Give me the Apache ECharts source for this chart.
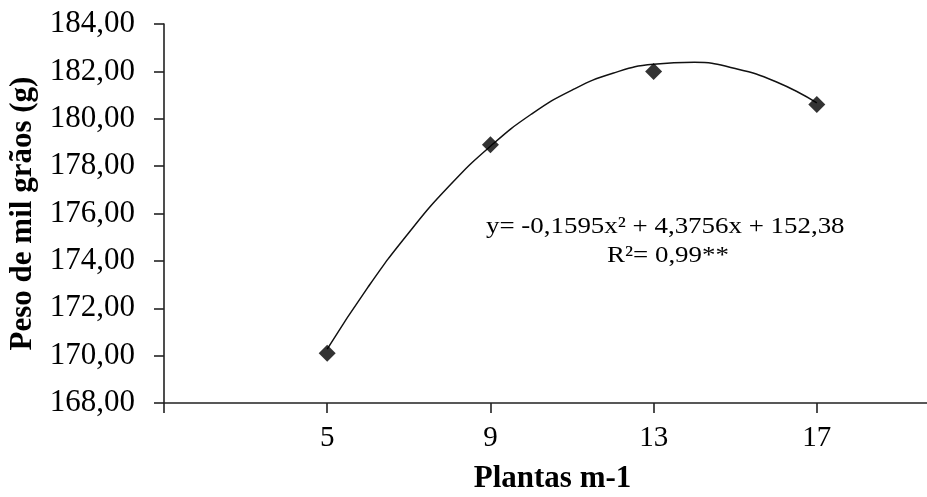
<!DOCTYPE html>
<html>
<head>
<meta charset="utf-8">
<script src="https://cdn.jsdelivr.net/npm/echarts@6/dist/echarts.min.js"></script>
<style>html,body{margin:0;padding:0;background:#fff}#c{width:927px;height:497px}</style>
</head>
<body>
<div id="c"></div>
<script>
// Observed data
var plantas = [5, 9, 13, 17];
var peso = [170.1, 178.9, 182.0, 180.6];
// Fitted trend curve
var trendX = [5, 6, 7, 8, 9, 10, 11, 12, 13, 14, 15, 16, 17];
var trendY = [170.27, 172.89, 175.19, 177.18, 178.84, 180.19, 181.21, 181.92, 182.30, 182.38, 182.12, 181.56, 180.67];
var xTicks = [5, 9, 13, 17];
var equationText = 'y= -0,1595x² + 4,3756x + 152,38';
var r2Text = 'R²= 0,99**';

var FONT = '"Liberation Serif", "Times New Roman", serif';
var chart = echarts.init(document.getElementById('c'));
chart.setOption({
  animation: false,
  backgroundColor: '#fff',
  grid: {left: 164, right: 0, top: 24, bottom: 94, containLabel: false, outerBoundsMode: 'none'},
  xAxis: {
    type: 'value', min: 1, max: 19.7,
    name: 'Plantas m-1', nameLocation: 'middle', nameGap: 60,
    nameTextStyle: {fontFamily: FONT, fontWeight: 'bold', fontSize: 31, color: '#000', padding: [0, 0, 0, 14]},
    axisLine: {show: true, lineStyle: {color: '#222', width: 1.6}},
    axisTick: {show: true, length: 10, lineStyle: {color: '#222', width: 1.6}, customValues: [1].concat(xTicks)},
    axisLabel: {customValues: xTicks, fontFamily: FONT, fontSize: 29, color: '#000', margin: 21},
    splitLine: {show: false}
  },
  yAxis: {
    type: 'value', min: 168, max: 184, interval: 2,
    name: 'Peso de mil grãos (g)', nameLocation: 'middle', nameGap: 126,
    nameTextStyle: {fontFamily: FONT, fontWeight: 'bold', fontSize: 31, color: '#000'},
    axisLine: {show: true, lineStyle: {color: '#222', width: 1.6}},
    axisTick: {show: true, length: 10, lineStyle: {color: '#222', width: 1.6}},
    axisLabel: {fontFamily: FONT, fontSize: 31, color: '#000', margin: 29,
      formatter: function (v) { return v.toFixed(2).replace('.', ','); }},
    splitLine: {show: false}
  },
  series: [
    {
      type: 'line', smooth: true, showSymbol: false, silent: true,
      data: trendX.map(function (x, i) { return [x, trendY[i]]; }),
      lineStyle: {color: '#111', width: 1.5}, z: 2
    },
    {
      type: 'scatter', symbol: 'diamond', symbolSize: 17,
      data: plantas.map(function (x, i) { return [x, peso[i]]; }),
      itemStyle: {color: '#000'}, z: 3
    }
  ],
  graphic: [
    {type: 'text', x: 486, y: 227, scaleX: 1.17,
      style: {text: equationText, font: '23px ' + FONT, fill: '#000', align: 'left', verticalAlign: 'middle'}},
    {type: 'text', x: 607, y: 256, scaleX: 1.17,
      style: {text: r2Text, font: '23px ' + FONT, fill: '#000', align: 'left', verticalAlign: 'middle'}}
  ]
});
</script>
</body>
</html>
